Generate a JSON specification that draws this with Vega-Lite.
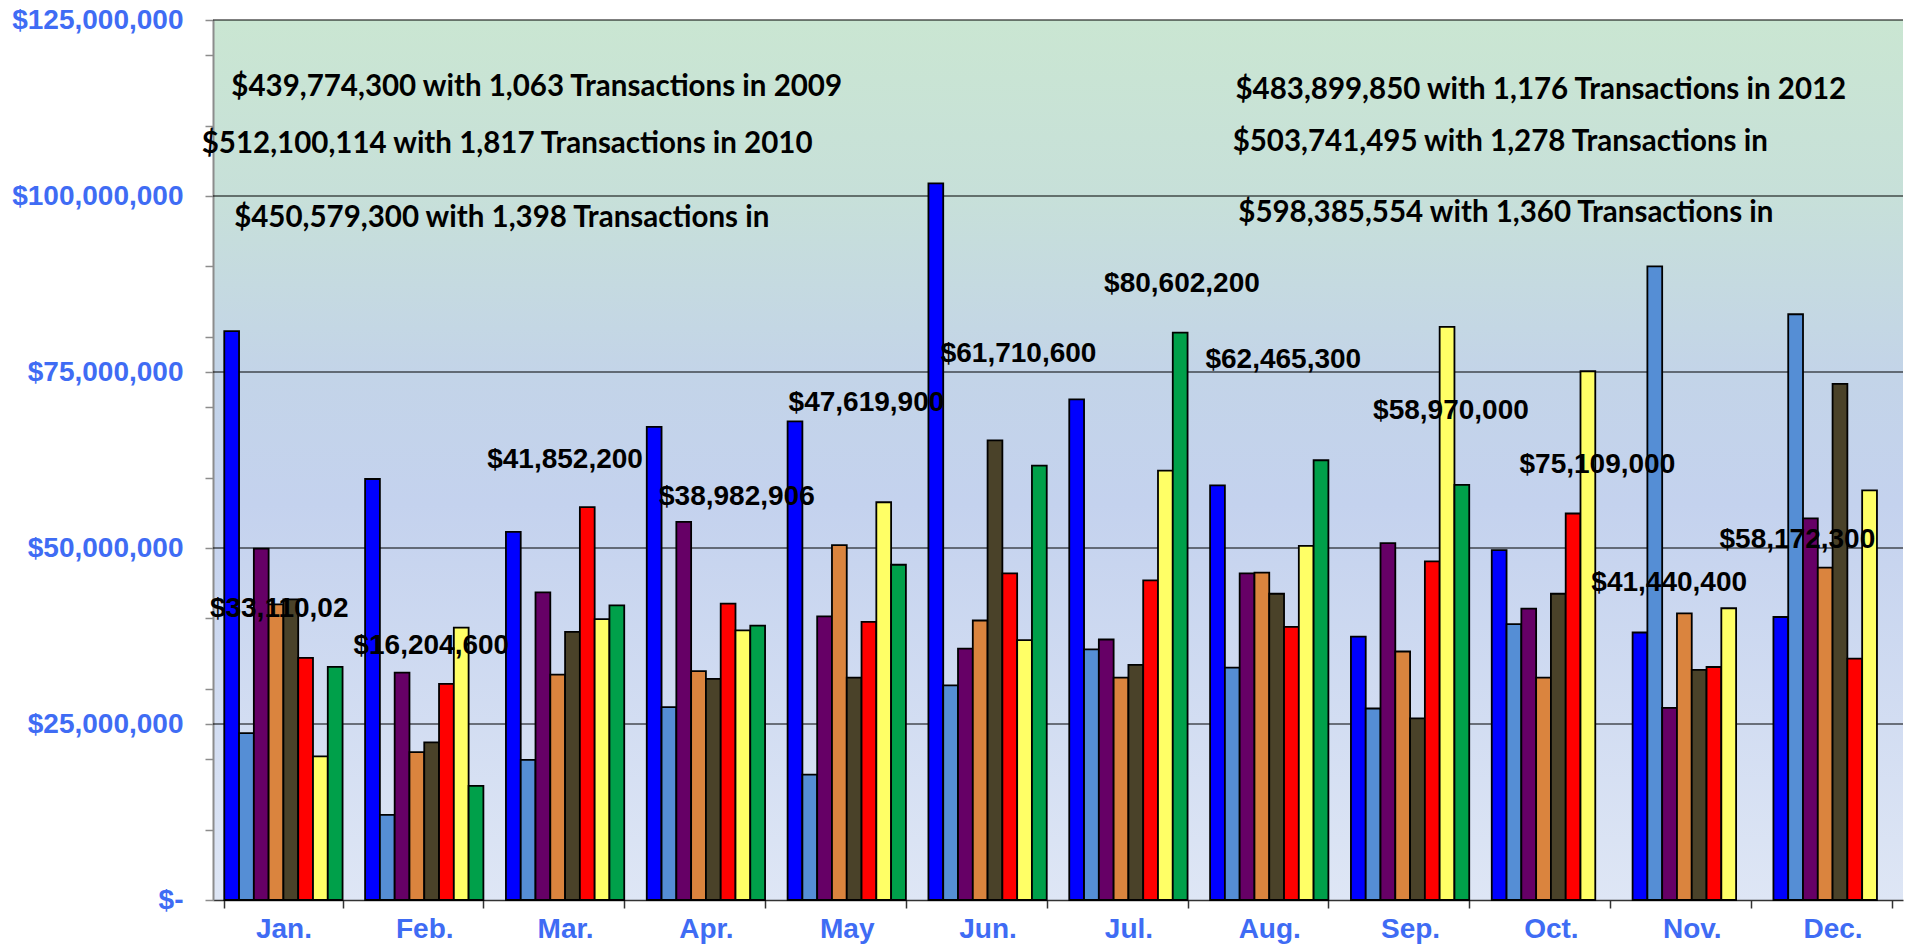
{
  "$schema": "https://vega.github.io/schema/vega-lite/v6.json",
  "width": 1690,
  "height": 880,
  "autosize": {"type": "none"},
  "padding": {"left": 213, "top": 20, "right": 10, "bottom": 48},
  "background": "#ffffff",
  "config": {
    "view": {
      "stroke": null,
      "fill": {
        "gradient": "linear",
        "x1": 0, "y1": 0, "x2": 0, "y2": 1,
        "stops": [
          {"offset": 0, "color": "#CAE6D2"},
          {"offset": 0.2, "color": "#C7E0D9"},
          {"offset": 0.4, "color": "#C3D4E8"},
          {"offset": 0.55, "color": "#C4D2EE"},
          {"offset": 1, "color": "#DEE6F5"}
        ]
      }
    }
  },
  "datasets": {
    "grid": [
      {"g": 25000000}, {"g": 50000000}, {"g": 75000000}, {"g": 100000000}, {"g": 125000000}
    ],
    "bars": [
      {"month": "Jan.", "year": "2008", "value": 80800000},
      {"month": "Jan.", "year": "2009", "value": 23700000},
      {"month": "Jan.", "year": "2010", "value": 49900000},
      {"month": "Jan.", "year": "2011", "value": 42000000},
      {"month": "Jan.", "year": "2012", "value": 42700000},
      {"month": "Jan.", "year": "2013", "value": 34400000},
      {"month": "Jan.", "year": "2014", "value": 20400000},
      {"month": "Jan.", "year": "2015", "value": 33110020},
      {"month": "Feb.", "year": "2008", "value": 59800000},
      {"month": "Feb.", "year": "2009", "value": 12100000},
      {"month": "Feb.", "year": "2010", "value": 32300000},
      {"month": "Feb.", "year": "2011", "value": 21000000},
      {"month": "Feb.", "year": "2012", "value": 22400000},
      {"month": "Feb.", "year": "2013", "value": 30700000},
      {"month": "Feb.", "year": "2014", "value": 38700000},
      {"month": "Feb.", "year": "2015", "value": 16204600},
      {"month": "Mar.", "year": "2008", "value": 52300000},
      {"month": "Mar.", "year": "2009", "value": 19900000},
      {"month": "Mar.", "year": "2010", "value": 43700000},
      {"month": "Mar.", "year": "2011", "value": 32000000},
      {"month": "Mar.", "year": "2012", "value": 38100000},
      {"month": "Mar.", "year": "2013", "value": 55800000},
      {"month": "Mar.", "year": "2014", "value": 39900000},
      {"month": "Mar.", "year": "2015", "value": 41852200},
      {"month": "Apr.", "year": "2008", "value": 67200000},
      {"month": "Apr.", "year": "2009", "value": 27400000},
      {"month": "Apr.", "year": "2010", "value": 53700000},
      {"month": "Apr.", "year": "2011", "value": 32500000},
      {"month": "Apr.", "year": "2012", "value": 31400000},
      {"month": "Apr.", "year": "2013", "value": 42100000},
      {"month": "Apr.", "year": "2014", "value": 38300000},
      {"month": "Apr.", "year": "2015", "value": 38982906},
      {"month": "May", "year": "2008", "value": 68000000},
      {"month": "May", "year": "2009", "value": 17800000},
      {"month": "May", "year": "2010", "value": 40300000},
      {"month": "May", "year": "2011", "value": 50400000},
      {"month": "May", "year": "2012", "value": 31600000},
      {"month": "May", "year": "2013", "value": 39500000},
      {"month": "May", "year": "2014", "value": 56500000},
      {"month": "May", "year": "2015", "value": 47619900},
      {"month": "Jun.", "year": "2008", "value": 101800000},
      {"month": "Jun.", "year": "2009", "value": 30500000},
      {"month": "Jun.", "year": "2010", "value": 35700000},
      {"month": "Jun.", "year": "2011", "value": 39700000},
      {"month": "Jun.", "year": "2012", "value": 65300000},
      {"month": "Jun.", "year": "2013", "value": 46400000},
      {"month": "Jun.", "year": "2014", "value": 36900000},
      {"month": "Jun.", "year": "2015", "value": 61710600},
      {"month": "Jul.", "year": "2008", "value": 71100000},
      {"month": "Jul.", "year": "2009", "value": 35600000},
      {"month": "Jul.", "year": "2010", "value": 37000000},
      {"month": "Jul.", "year": "2011", "value": 31600000},
      {"month": "Jul.", "year": "2012", "value": 33400000},
      {"month": "Jul.", "year": "2013", "value": 45400000},
      {"month": "Jul.", "year": "2014", "value": 61000000},
      {"month": "Jul.", "year": "2015", "value": 80602200},
      {"month": "Aug.", "year": "2008", "value": 58900000},
      {"month": "Aug.", "year": "2009", "value": 33000000},
      {"month": "Aug.", "year": "2010", "value": 46400000},
      {"month": "Aug.", "year": "2011", "value": 46500000},
      {"month": "Aug.", "year": "2012", "value": 43500000},
      {"month": "Aug.", "year": "2013", "value": 38800000},
      {"month": "Aug.", "year": "2014", "value": 50300000},
      {"month": "Aug.", "year": "2015", "value": 62465300},
      {"month": "Sep.", "year": "2008", "value": 37400000},
      {"month": "Sep.", "year": "2009", "value": 27200000},
      {"month": "Sep.", "year": "2010", "value": 50700000},
      {"month": "Sep.", "year": "2011", "value": 35300000},
      {"month": "Sep.", "year": "2012", "value": 25800000},
      {"month": "Sep.", "year": "2013", "value": 48100000},
      {"month": "Sep.", "year": "2014", "value": 81400000},
      {"month": "Sep.", "year": "2015", "value": 58970000},
      {"month": "Oct.", "year": "2008", "value": 49700000},
      {"month": "Oct.", "year": "2009", "value": 39200000},
      {"month": "Oct.", "year": "2010", "value": 41400000},
      {"month": "Oct.", "year": "2011", "value": 31600000},
      {"month": "Oct.", "year": "2012", "value": 43500000},
      {"month": "Oct.", "year": "2013", "value": 54900000},
      {"month": "Oct.", "year": "2014", "value": 75109000},
      {"month": "Nov.", "year": "2008", "value": 38000000},
      {"month": "Nov.", "year": "2009", "value": 90000000},
      {"month": "Nov.", "year": "2010", "value": 27300000},
      {"month": "Nov.", "year": "2011", "value": 40700000},
      {"month": "Nov.", "year": "2012", "value": 32700000},
      {"month": "Nov.", "year": "2013", "value": 33100000},
      {"month": "Nov.", "year": "2014", "value": 41440400},
      {"month": "Dec.", "year": "2008", "value": 40200000},
      {"month": "Dec.", "year": "2009", "value": 83200000},
      {"month": "Dec.", "year": "2010", "value": 54200000},
      {"month": "Dec.", "year": "2011", "value": 47200000},
      {"month": "Dec.", "year": "2012", "value": 73300000},
      {"month": "Dec.", "year": "2013", "value": 34300000},
      {"month": "Dec.", "year": "2014", "value": 58172300}
    ],
    "barLabels": [
      {"label": "$33,110,02", "pos": 0.47, "at": 41300000},
      {"label": "$16,204,600", "pos": 1.55, "at": 36100000},
      {"label": "$41,852,200", "pos": 2.5, "at": 62500000},
      {"label": "$38,982,906", "pos": 3.72, "at": 57200000},
      {"label": "$47,619,900", "pos": 4.64, "at": 70600000},
      {"label": "$61,710,600", "pos": 5.72, "at": 77600000},
      {"label": "$80,602,200", "pos": 6.88, "at": 87500000},
      {"label": "$62,465,300", "pos": 7.6, "at": 76700000},
      {"label": "$58,970,000", "pos": 8.79, "at": 69500000},
      {"label": "$75,109,000", "pos": 9.83, "at": 61800000},
      {"label": "$41,440,400", "pos": 10.34, "at": 45000000},
      {"label": "$58,172,300", "pos": 11.25, "at": 51100000}
    ],
    "notes": [
      {"note": "$439,774,300  with 1,063 Transactions in 2009", "pos": 0.13, "at": 115500000},
      {"note": "$512,100,114 with 1,817 Transactions in 2010", "pos": -0.08, "at": 107400000},
      {"note": "$450,579,300 with 1,398 Transactions in", "pos": 0.15, "at": 96900000},
      {"note": "$483,899,850 with 1,176 Transactions in 2012", "pos": 7.26, "at": 115100000},
      {"note": "$503,741,495 with 1,278 Transactions in", "pos": 7.24, "at": 107700000},
      {"note": "$598,385,554 with 1,360 Transactions in", "pos": 7.28, "at": 97600000}
    ]
  },
  "layer": [
    {
      "data": {"name": "grid"},
      "mark": {"type": "rule", "color": "#000000", "strokeWidth": 1.2},
      "encoding": {
        "y": {"field": "g", "type": "quantitative", "scale": {"domain": [0, 125000000], "nice": false}, "axis": null}
      }
    },
    {
      "data": {"name": "bars"},
      "mark": {"type": "bar", "stroke": "#000000", "strokeWidth": 1.8, "strokeJoin": "miter"},
      "encoding": {
        "x": {
          "field": "month",
          "type": "nominal",
          "sort": ["Jan.", "Feb.", "Mar.", "Apr.", "May", "Jun.", "Jul.", "Aug.", "Sep.", "Oct.", "Nov.", "Dec."],
          "scale": {"paddingInner": 0.16, "paddingOuter": 0.08},
          "axis": {
            "title": null,
            "tickBand": "extent",
            "labelAngle": 0,
            "labelFont": "Liberation Sans",
            "labelFontWeight": "bold",
            "labelFontSize": 28,
            "labelColor": "#3F6CF4",
            "labelPadding": 7,
            "tickSize": 8,
            "tickColor": "#333333",
            "tickWidth": 1.5,
            "domainColor": "#333333",
            "domainWidth": 1.5,
            "grid": false
          }
        },
        "xOffset": {"field": "year", "type": "nominal", "sort": "ascending"},
        "y": {
          "field": "value",
          "type": "quantitative",
          "scale": {"domain": [0, 125000000], "nice": false},
          "axis": {
            "orient": "left",
            "title": null,
            "values": [0, 10000000, 20000000, 25000000, 30000000, 40000000, 50000000, 60000000, 70000000, 75000000, 80000000, 90000000, 100000000, 110000000, 120000000, 125000000],
            "labelExpr": "datum.value === 0 ? '$-' : (datum.value % 25000000 === 0 ? '$' + datum.label : '')",
            "format": ",d",
            "labelOverlap": false,
            "grid": false,
            "domainColor": "#8C8C8C",
            "domainWidth": 2,
            "tickColor": "#8C8C8C",
            "tickSize": 8,
            "tickWidth": 1.5,
            "labelFont": "Liberation Sans",
            "labelFontWeight": "bold",
            "labelFontSize": 28,
            "labelColor": "#3F6CF4",
            "labelPadding": 22
          }
        },
        "color": {
          "field": "year",
          "type": "nominal",
          "scale": {
            "domain": ["2008", "2009", "2010", "2011", "2012", "2013", "2014", "2015"],
            "range": ["#0000FF", "#558ED5", "#660066", "#DA843E", "#4A4229", "#FF0000", "#FFFF66", "#00A04A"]
          },
          "legend": null
        }
      }
    },
    {
      "data": {"name": "barLabels"},
      "mark": {"type": "text", "font": "Liberation Sans", "fontWeight": "bold", "fontSize": 28, "color": "#000000", "align": "center", "baseline": "middle"},
      "encoding": {
        "x": {"field": "pos", "type": "quantitative", "scale": {"domain": [0, 12], "nice": false, "zero": false}, "axis": null},
        "y": {"field": "at", "type": "quantitative", "scale": {"domain": [0, 125000000], "nice": false}, "axis": null},
        "text": {"field": "label", "type": "nominal"}
      }
    },
    {
      "data": {"name": "notes"},
      "mark": {"type": "text", "font": "Lato", "fontWeight": "bold", "fontSize": 29.5, "color": "#000000", "align": "left", "baseline": "middle"},
      "encoding": {
        "x": {"field": "pos", "type": "quantitative", "scale": {"domain": [0, 12], "nice": false, "zero": false}, "axis": null},
        "y": {"field": "at", "type": "quantitative", "scale": {"domain": [0, 125000000], "nice": false}, "axis": null},
        "text": {"field": "note", "type": "nominal"}
      }
    }
  ],
  "resolve": {"scale": {"x": "independent"}, "axis": {"y": "independent"}}
}
